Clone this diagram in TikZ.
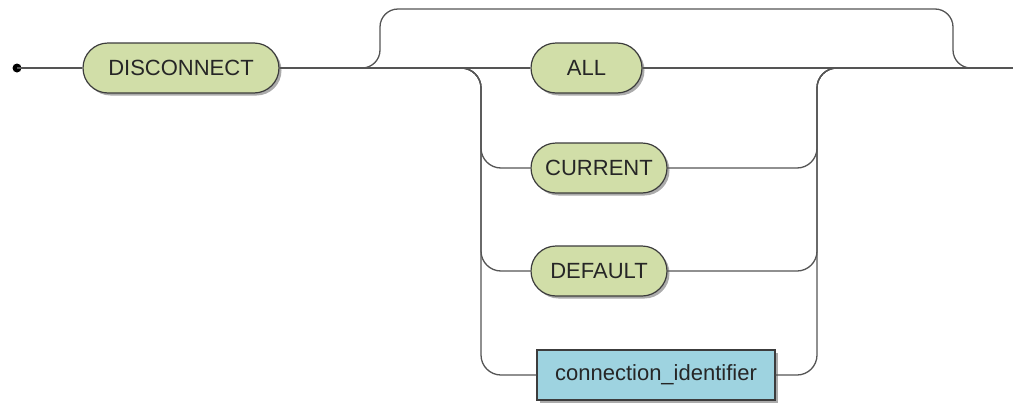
\documentclass[tikz,border=0pt]{standalone}
\usepackage{fontspec}
\setmainfont{Liberation Sans}
\usepackage{tikz}
\usetikzlibrary{shadows}

\definecolor{kwfill}{RGB}{209,222,168}
\definecolor{idfill}{RGB}{158,211,224}
\definecolor{rail}{RGB}{85,85,85}
\definecolor{edge}{RGB}{60,60,60}

\begin{document}
\begin{tikzpicture}
  [x=1pt,y=-1pt,
   every node/.style={draw=edge,line width=1.2pt,minimum height=50pt,inner xsep=0pt,
     text=black!85,font=\fontsize{22}{26}\selectfont,
     drop shadow={shadow xshift=2.5pt,shadow yshift=-2.5pt,opacity=.55,fill=black!60}},
   kw/.style={fill=kwfill,rounded corners=25pt},
   ident/.style={fill=idfill},
   line/.style={draw=rail,line width=1.3pt}]
  \useasboundingbox (0,0) rectangle (1013,402);

  \node[kw,minimum width=196pt] (disc) at (181,68) {DISCONNECT};
  \node[kw,minimum width=111pt] (all) at (586.5,68) {ALL};
  \node[kw,minimum width=136pt] (cur) at (599,168) {CURRENT};
  \node[kw,minimum width=136pt] (def) at (599,271) {DEFAULT};
  \node[ident,minimum width=238pt] (cid) at (656,375) {connection\_identifier};

  \coordinate (start) at (17,68);
  \coordinate (skipin) at (358,68);
  \coordinate (skipout) at (975,68);
  \coordinate (chin) at (461,68);
  \coordinate (chout) at (838,68);
  \coordinate (finish) at (1013,68);

  \fill[black] (start) circle (4.5);
  \draw[line] (start) -- (disc);
  \draw[line] (disc) -- (all);
  \draw[line] (all) -- (finish);
  \draw[line,rounded corners=18pt] (skipin) -| (380,9) -| (953,68) -- (skipout);
  \foreach \n in {cur,def,cid}
    \draw[line,rounded corners=20pt] (chin) -- (481,68) |- (\n.west);
  \foreach \n in {cur,def,cid}
    \draw[line,rounded corners=20pt] (\n.east) -| (817,68) -- (chout);

\end{tikzpicture}
\end{document}
